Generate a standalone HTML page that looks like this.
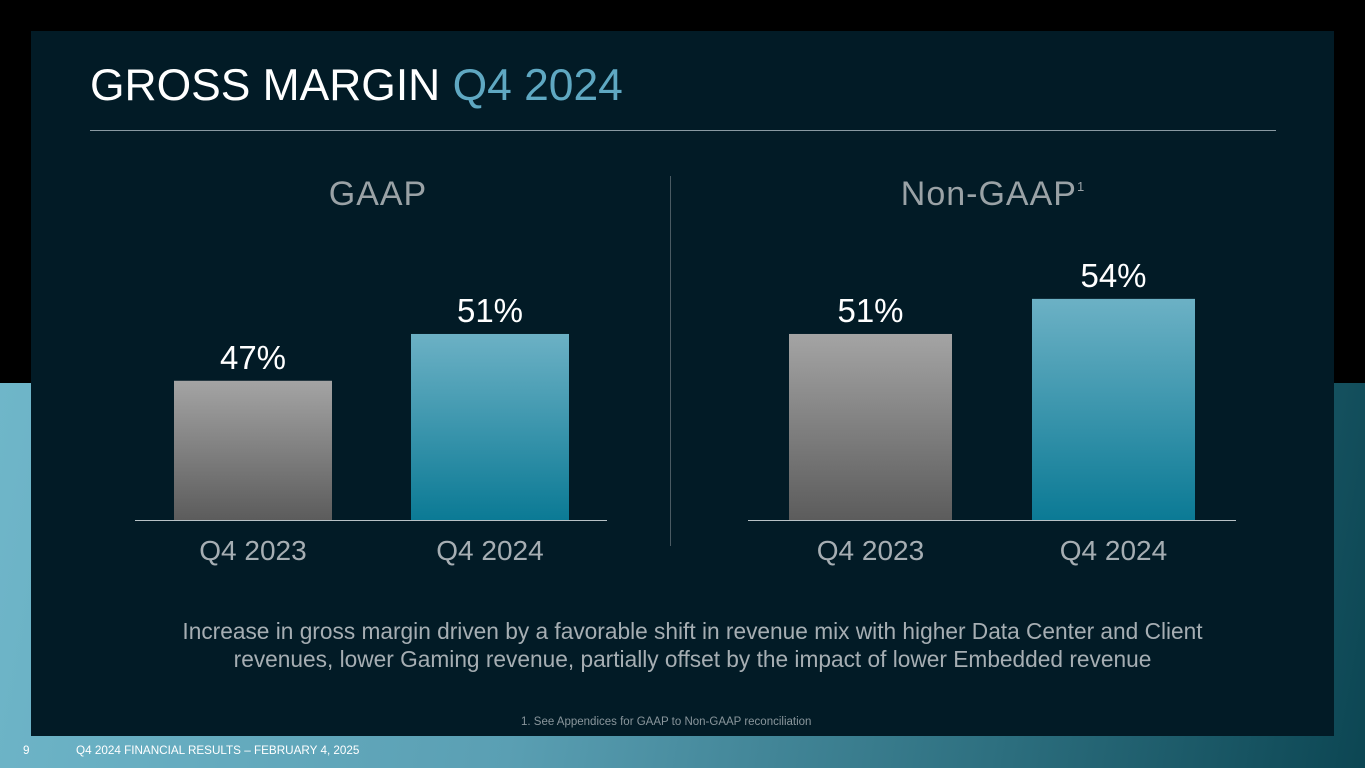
<!DOCTYPE html>
<html><head><meta charset="utf-8"><style>
body{margin:0;width:1365px;height:768px;overflow:hidden;font-family:"Liberation Sans",sans-serif;position:relative;background:#000}
.bg{position:absolute;left:0;top:383px;width:1365px;height:385px;background:linear-gradient(100deg,#6fb6c9 0%,#5a9fb3 40%,#2c6e7e 75%,#0c4653 100%)}
.panel{position:absolute;left:31px;top:31px;width:1303px;height:705px;background:#021b26}
.t{position:absolute;white-space:nowrap}
</style></head><body>
<div class="bg"></div>
<div class="panel"></div>
<div class="t" style="left:90px;top:61px;font-size:44.4px;color:#fff">GROSS MARGIN <span style="color:#5fa8c2">Q4 2024</span></div>
<div style="position:absolute;left:90px;top:130px;width:1186px;height:1px;background:#8a9aa2"></div>
<svg id="chart" width="1365" height="768" style="position:absolute;left:0;top:0">
<defs>
<linearGradient id="gGray" x1="0" y1="0" x2="0" y2="1"><stop offset="0" stop-color="#a4a4a4"/><stop offset="1" stop-color="#5c5c5c"/></linearGradient>
<linearGradient id="gBlue" x1="0" y1="0" x2="0" y2="1"><stop offset="0" stop-color="#6cb1c5"/><stop offset="1" stop-color="#0b7a95"/></linearGradient>
</defs>
</svg>
<div class="t" style="left:10px;width:1365px;text-align:center;top:617px;font-size:22.7px;line-height:28px;color:#a6aeb3;white-space:normal">Increase in gross margin driven by a favorable shift in revenue mix with higher Data Center and Client<br>revenues, lower Gaming revenue, partially offset by the impact of lower Embedded revenue</div>
<div class="t" style="left:521px;top:716px;font-size:11.5px;color:#8a969c">1. See Appendices for GAAP to Non-GAAP reconciliation</div>
<div class="t" style="left:23px;top:744px;font-size:11.7px;color:#fff">9</div>
<div class="t" style="left:76px;top:744px;font-size:11.7px;color:#fff">Q4 2024 FINANCIAL RESULTS – FEBRUARY 4, 2025</div>
<script>
const categories=["Q4 2023","Q4 2024"];
const gaapValues=[47,51];
const nonGaapValues=[51,54];
const panelTitles=["GAAP","Non-GAAP"];
const svg=document.getElementById('chart');
const NS='http://www.w3.org/2000/svg';
const baseY=520, pxPerPct=11.7, minPct=35.1;
function y(v){return baseY-(v-minPct)*pxPerPct;}
function mk(tag,attrs,text){const e=document.createElementNS(NS,tag);for(const k in attrs)e.setAttribute(k,attrs[k]);if(text!==undefined)e.textContent=text;svg.appendChild(e);return e;}
const panels=[{vals:gaapValues,ax0:135,ax1:607,bx:[174,411],bw:158,tx:378},{vals:nonGaapValues,ax0:748,ax1:1236,bx:[789,1032],bw:163,tx:993}];
panels.forEach((p,pi)=>{
  const tt=mk('text',{x:p.tx,y:205,'text-anchor':'middle','font-size':34,fill:'#9aa2a6','font-family':'Liberation Sans','letter-spacing':'1'},panelTitles[pi]);
  
  
  if(pi){const s=document.createElementNS(NS,'tspan');s.setAttribute('font-size','13');s.setAttribute('dy','-14');s.textContent='1';tt.appendChild(s);}
  p.vals.forEach((v,i)=>{
    const top=y(v);
    const r=mk('rect',{x:p.bx[i],y:top,width:p.bw,height:baseY-top,fill:i?'url(#gBlue)':'url(#gGray)'});
    
    
    const lb=mk('text',{x:p.bx[i]+p.bw/2,y:top-12,'text-anchor':'middle','font-size':33,fill:'#fff','font-family':'Liberation Sans'},v+'%');
    
    
    const cl=mk('text',{x:p.bx[i]+p.bw/2,y:560,'text-anchor':'middle','font-size':28,fill:'#a6aeb3','font-family':'Liberation Sans'},categories[i]);
    
    
  });
  const ax=mk('line',{x1:p.ax0,x2:p.ax1,y1:baseY+0.5,y2:baseY+0.5,stroke:'#b8c2c6','stroke-width':1});
  
  
});
const dv=mk('line',{x1:670.5,x2:670.5,y1:176,y2:546,stroke:'#4a5a62','stroke-width':1});


</script>
</body></html>
